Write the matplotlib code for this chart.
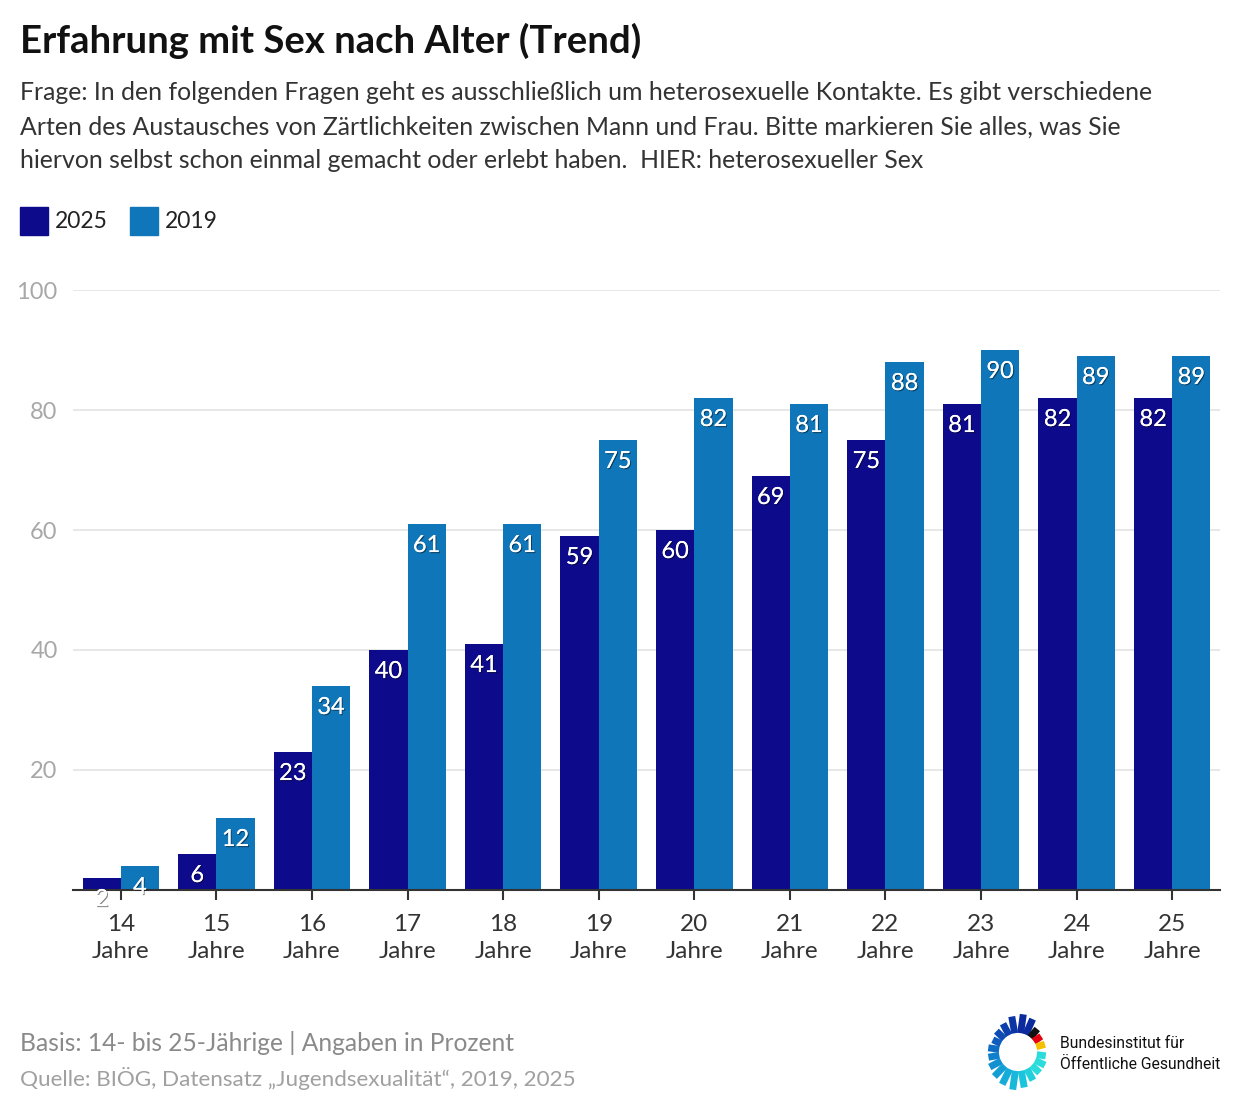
import numpy as np
import matplotlib.pyplot as plt
import matplotlib.patheffects as pe

plt.rcParams['font.family'] = ['Lato', 'DejaVu Sans']

ages = ["14", "15", "16", "17", "18", "19", "20", "21", "22", "23", "24", "25"]
values_2025 = [2, 6, 23, 40, 41, 59, 60, 69, 75, 81, 82, 82]
values_2019 = [4, 12, 34, 61, 61, 75, 82, 81, 88, 90, 89, 89]
series_names = ["2025", "2019"]
colors = ["#0d0a8c", "#0f76b9"]

fig = plt.figure(figsize=(12.4, 11.16), dpi=100)
ax = fig.add_axes([73/1240, 1 - 890/1116, (1220-73)/1240, 600/1116])

x = np.arange(len(ages))
w = 0.4
shadow = [pe.withSimplePatchShadow(offset=(0.8, -0.8), shadow_rgbFace='black', alpha=0.45), pe.Normal()]

for i, (vals, col) in enumerate(zip([values_2025, values_2019], colors)):
    pos = x + (i - 0.5) * w
    ax.bar(pos, vals, width=w, color=col, zorder=3)
    for p, v in zip(pos, vals):
        ax.annotate(str(v), (p, v), xytext=(0, -15.5), textcoords='offset points',
                    ha='center', va='center', color='white', fontsize=17,
                    path_effects=shadow, zorder=5, annotation_clip=False)

ax.set_xlim(-0.5, len(ages) - 0.5)
ax.set_ylim(0, 100)
ax.set_yticks([20, 40, 60, 80, 100])
ax.yaxis.grid(True, color='#e3e3e3', linewidth=1.2, zorder=0)
ax.tick_params(axis='y', length=0, labelsize=17, labelcolor='#a8a8a8', pad=11)
ax.set_xticks(x)
ax.set_xticklabels([a + "\nJahre" for a in ages], fontsize=17.5, color='#333333', linespacing=1.35)
ax.tick_params(axis='x', length=7, width=1.5, color='#333333', pad=10, direction='out')
for s in ['top', 'right', 'left']:
    ax.spines[s].set_visible(False)
ax.spines['bottom'].set_color('#333333')
ax.spines['bottom'].set_linewidth(1.5)
ax.spines['bottom'].set_zorder(4)

# title and question
fig.text(20/1240, 1 - 41/1116, "Erfahrung mit Sex nach Alter (Trend)", fontsize=27.5,
         fontweight='bold', va='center', color='#111111')
question = ["Frage: In den folgenden Fragen geht es ausschließlich um heterosexuelle Kontakte. Es gibt verschiedene",
            "Arten des Austausches von Zärtlichkeiten zwischen Mann und Frau. Bitte markieren Sie alles, was Sie",
            "hiervon selbst schon einmal gemacht oder erlebt haben.  HIER: heterosexueller Sex"]
for k, line in enumerate(question):
    fig.text(20/1240, 1 - (93 + 34*k)/1116, line, fontsize=17.9, va='center', color='#333333')

# legend
for i, (name, col) in enumerate(zip(series_names, colors)):
    x0 = [20, 130][i]
    fig.patches.append(plt.Rectangle((x0/1240, 1 - 235/1116), 28/1240, 28/1116,
                                     transform=fig.transFigure, color=col))
    fig.text((x0 + 35)/1240, 1 - 221/1116, name, fontsize=16.5, va='center', color='#222222')

# footer
fig.text(20/1240, 1 - 1043/1116, "Basis: 14- bis 25-Jährige | Angaben in Prozent", fontsize=17.7,
         va='center', color='#8a8a8a')
fig.text(20/1240, 1 - 1078/1116, "Quelle: BIÖG, Datensatz „Jugendsexualität“, 2019, 2025", fontsize=16.2,
         va='center', color='#a0a0a0')

# logo
lax = fig.add_axes([973/1240, 1 - 1097/1116, 90/1240, 90/1116])
lax.set_xlim(-45, 45)
lax.set_ylim(-45, 45)
lax.set_aspect('equal')
lax.axis('off')
angles = [82, 66, 50, 34, 16, 100, 118, 136, 154, 172, 190, 208, 226, 244, 262, 280, 298, 316, 334, 352]
lcols = ['#0a2a9e', '#0a2a9e', '#111111', '#e3000f', '#f4c000', '#0b34a4', '#0b40ad', '#0d4cb3',
         '#0e5cbd', '#0f6cc4', '#1180cc', '#1290d2', '#139ed6', '#15acd9', '#17b8da', '#1ac4dc',
         '#22d0dc', '#2bdcdc', '#2bdcdc', '#2bdcdc']
lens = [38, 36, 30, 28, 28, 36, 32, 30, 28, 30, 30, 32, 34, 36, 38, 36, 32, 30, 30, 28]
for a, c, L in zip(angles, lcols, lens):
    t = np.deg2rad(a)
    lax.plot([19*np.cos(t), L*np.cos(t)], [19*np.sin(t), L*np.sin(t)], color=c,
             linewidth=5, solid_capstyle='butt')
fig.text(1060/1240, 1 - 1043/1116, "Bundesinstitut für", fontsize=11.3, va='center', color='#111111',
         family=['Roboto', 'DejaVu Sans'])
fig.text(1060/1240, 1 - 1064/1116, "Öffentliche Gesundheit", fontsize=11.3, va='center', color='#111111',
         family=['Roboto', 'DejaVu Sans'])

fig.savefig("out.png", dpi=100, facecolor='white')
